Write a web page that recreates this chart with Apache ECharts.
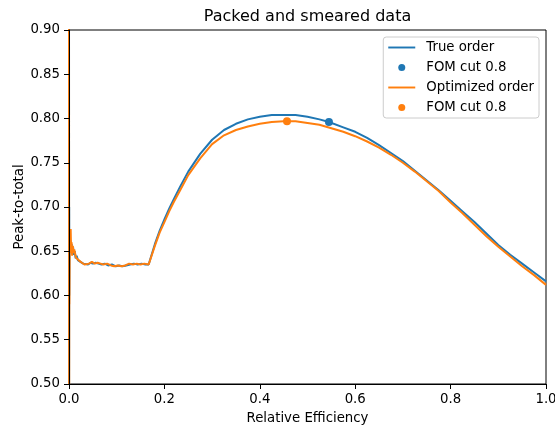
<!DOCTYPE html>
<html>
<head>
<meta charset="utf-8">
<script src="https://cdn.jsdelivr.net/npm/echarts@6/dist/echarts.min.js"></script>
<style>
  html, body { margin: 0; padding: 0; background: #fff; }
  #chart { width: 555px; height: 426px; }
</style>
</head>
<body>
<div id="chart"></div>
<script>
// Peak-to-total versus relative efficiency, two orderings of packed/smeared events.

// True order curve
const trueEff = [
  0.0000, 0.0002, 0.0004, 0.0007, 0.0012, 0.0020, 0.0030, 0.0040, 0.0055, 0.0070,
  0.0085, 0.0100, 0.0120, 0.0140, 0.0160, 0.0185, 0.0210, 0.0240, 0.0270, 0.0300,
  0.0340, 0.0400, 0.0450, 0.0500, 0.0560, 0.0620, 0.0680, 0.0750, 0.0820, 0.0900,
  0.0980, 0.1050, 0.1120, 0.1200, 0.1280, 0.1360, 0.1440, 0.1520, 0.1600, 0.1670,
  0.1800, 0.1900, 0.2000, 0.2100, 0.2200, 0.2330, 0.2500, 0.2750, 0.3000, 0.3250,
  0.3500, 0.3750, 0.4000, 0.4250, 0.4500, 0.4750, 0.5000, 0.5250, 0.5450, 0.5750,
  0.6000, 0.6250, 0.6500, 0.6750, 0.7000, 0.7250, 0.7500, 0.7750, 0.8000, 0.8250,
  0.8500, 0.8750, 0.9000, 0.9250, 0.9500, 0.9750, 1.0000
];
const truePT = [
  0.950, 0.470, 0.700, 0.600, 0.665, 0.648, 0.662, 0.652, 0.658, 0.647,
  0.655, 0.646, 0.650, 0.642, 0.645, 0.640, 0.642, 0.638, 0.639, 0.636,
  0.637, 0.635, 0.637, 0.636, 0.637, 0.636, 0.635, 0.636, 0.634, 0.635,
  0.633, 0.634, 0.633, 0.634, 0.635, 0.636, 0.635, 0.636, 0.635, 0.635,
  0.658, 0.673, 0.686, 0.698, 0.709, 0.723, 0.740, 0.760, 0.776, 0.787,
  0.794, 0.799, 0.802, 0.804, 0.804, 0.804, 0.802, 0.799, 0.796, 0.790,
  0.785, 0.778, 0.770, 0.761, 0.752, 0.741, 0.730, 0.719, 0.707, 0.695,
  0.683, 0.670, 0.657, 0.646, 0.636, 0.626, 0.616
];

// Optimized order curve
const optEff = [
  0.0000, 0.0003, 0.0006, 0.0009, 0.0015, 0.0025, 0.0035, 0.0045, 0.0055, 0.0065,
  0.0080, 0.0095, 0.0110, 0.0126, 0.0145, 0.0170, 0.0200, 0.0230, 0.0270, 0.0300,
  0.0330, 0.0370, 0.0420, 0.0480, 0.0540, 0.0600, 0.0660, 0.0720, 0.0800, 0.0880,
  0.0950, 0.1020, 0.1100, 0.1180, 0.1260, 0.1340, 0.1420, 0.1500, 0.1580, 0.1670,
  0.1800, 0.1900, 0.2000, 0.2100, 0.2200, 0.2330, 0.2500, 0.2750, 0.3000, 0.3250,
  0.3500, 0.3750, 0.4000, 0.4250, 0.4500, 0.4750, 0.5000, 0.5250, 0.5500, 0.5750,
  0.6000, 0.6250, 0.6500, 0.6750, 0.7000, 0.7250, 0.7500, 0.7750, 0.8000, 0.8250,
  0.8500, 0.8750, 0.9000, 0.9250, 0.9500, 0.9750, 1.0000
];
const optPT = [
  0.920, 0.450, 0.620, 0.590, 0.660, 0.652, 0.675, 0.648, 0.660, 0.645,
  0.656, 0.648, 0.652, 0.650, 0.643, 0.645, 0.640, 0.642, 0.637, 0.638,
  0.635, 0.637, 0.636, 0.638, 0.636, 0.637, 0.636, 0.635, 0.636, 0.634,
  0.633, 0.634, 0.633, 0.634, 0.636, 0.635, 0.636, 0.635, 0.636, 0.635,
  0.656, 0.671, 0.683, 0.695, 0.706, 0.719, 0.736, 0.755, 0.771, 0.781,
  0.787, 0.791, 0.794, 0.796, 0.797, 0.797, 0.795, 0.793, 0.789, 0.785,
  0.780, 0.774, 0.767, 0.759, 0.750, 0.740, 0.729, 0.718, 0.705, 0.693,
  0.680, 0.667, 0.655, 0.644, 0.633, 0.623, 0.612
];

// Working points at FOM cut 0.8
const fomTrue = [0.545, 0.796];
const fomOpt = [0.457, 0.797];

// Axis ticks
const xTicks = [0.0, 0.2, 0.4, 0.6, 0.8, 1.0];
const yTicks = [0.50, 0.55, 0.60, 0.65, 0.70, 0.75, 0.80, 0.85, 0.90];

const BLUE = '#1f77b4';
const ORANGE = '#ff7f0e';
const FONT = 'DejaVu Sans';
const FS = 13.3;
// thin bar used as the legend handle for the line series
const LINE_ICON = 'path://M0,0L28,0L28,2L0,2Z';

const pairs = (xs, ys) => xs.map((x, i) => [x, ys[i]]);

const chart = echarts.init(document.getElementById('chart'), null, { renderer: 'canvas' });

const gridL = 69, gridR = 9, gridT = 30, gridB = 42;
const plotCenterX = gridL + (555 - gridL - gridR) / 2;

chart.setOption({
  animation: false,
  backgroundColor: '#fff',
  textStyle: { fontFamily: FONT },
  grid: {
    left: gridL, right: gridR, top: gridT, bottom: gridB,
    outerBoundsMode: 'none',
    containLabel: false,
    show: true, borderColor: '#000', borderWidth: 1, backgroundColor: 'transparent'
  },
  graphic: [{
    type: 'text',
    x: plotCenterX, y: 17,
    style: {
      text: 'Packed and smeared data',
      font: '16px "DejaVu Sans"',
      fill: '#000',
      textAlign: 'center',
      textVerticalAlign: 'middle'
    }
  }],
  xAxis: {
    type: 'value',
    z: 10,
    min: xTicks[0], max: xTicks[xTicks.length - 1],
    interval: xTicks[1] - xTicks[0],
    name: 'Relative Efficiency',
    nameLocation: 'middle',
    nameGap: 28,
    nameTextStyle: { fontSize: FS, color: '#000', fontFamily: FONT },
    axisLine: { show: true, lineStyle: { color: '#000', width: 1 } },
    axisTick: { show: true, inside: false, length: 5, lineStyle: { color: '#000' } },
    axisLabel: {
      margin: 9, fontSize: FS, color: '#000', fontFamily: FONT,
      formatter: v => v.toFixed(1)
    },
    splitLine: { show: false }
  },
  yAxis: {
    type: 'value',
    z: 10,
    min: yTicks[0], max: yTicks[yTicks.length - 1],
    interval: 0.05,
    name: 'Peak-to-total',
    nameLocation: 'middle',
    nameGap: 43,
    nameMoveOverlap: false,
    nameRotate: 90,
    nameTextStyle: { fontSize: FS, color: '#000', fontFamily: FONT },
    axisLine: { show: true, lineStyle: { color: '#000', width: 1 } },
    axisTick: { show: true, inside: false, length: 5, lineStyle: { color: '#000' } },
    axisLabel: {
      margin: 9, fontSize: FS, color: '#000', fontFamily: FONT,
      formatter: v => v.toFixed(2)
    },
    splitLine: { show: false }
  },
  legend: {
    orient: 'vertical',
    right: 16, top: 37,
    padding: [4, 5, 4, 5],
    itemWidth: 27,
    itemHeight: 7,
    itemGap: 7,
    symbolKeepAspect: true,
    backgroundColor: 'rgba(255,255,255,0.8)',
    borderColor: '#cccccc',
    borderWidth: 1,
    borderRadius: 3,
    textStyle: { fontSize: FS, color: '#000', fontFamily: FONT, padding: [0, 0, 0, 6] },
    formatter: name => name.trim(),
    data: [
      { name: 'True order', icon: LINE_ICON },
      { name: 'FOM cut 0.8', icon: 'circle' },
      { name: 'Optimized order', icon: LINE_ICON },
      { name: 'FOM cut 0.8 ', icon: 'circle' }
    ]
  },
  series: [
    {
      name: 'True order',
      type: 'line',
      data: pairs(trueEff, truePT),
      symbol: 'none',
      lineStyle: { color: BLUE, width: 2 },
      itemStyle: { color: BLUE },
      clip: true,
      z: 2
    },
    {
      name: 'FOM cut 0.8',
      type: 'scatter',
      data: [fomTrue],
      symbolSize: 8,
      itemStyle: { color: BLUE, opacity: 1 },
      z: 4
    },
    {
      name: 'Optimized order',
      type: 'line',
      data: pairs(optEff, optPT),
      symbol: 'none',
      lineStyle: { color: ORANGE, width: 2 },
      itemStyle: { color: ORANGE },
      clip: true,
      z: 3
    },
    {
      name: 'FOM cut 0.8 ',
      type: 'scatter',
      data: [fomOpt],
      symbolSize: 8,
      itemStyle: { color: ORANGE, opacity: 1 },
      z: 4
    }
  ]
});
</script>
</body>
</html>
